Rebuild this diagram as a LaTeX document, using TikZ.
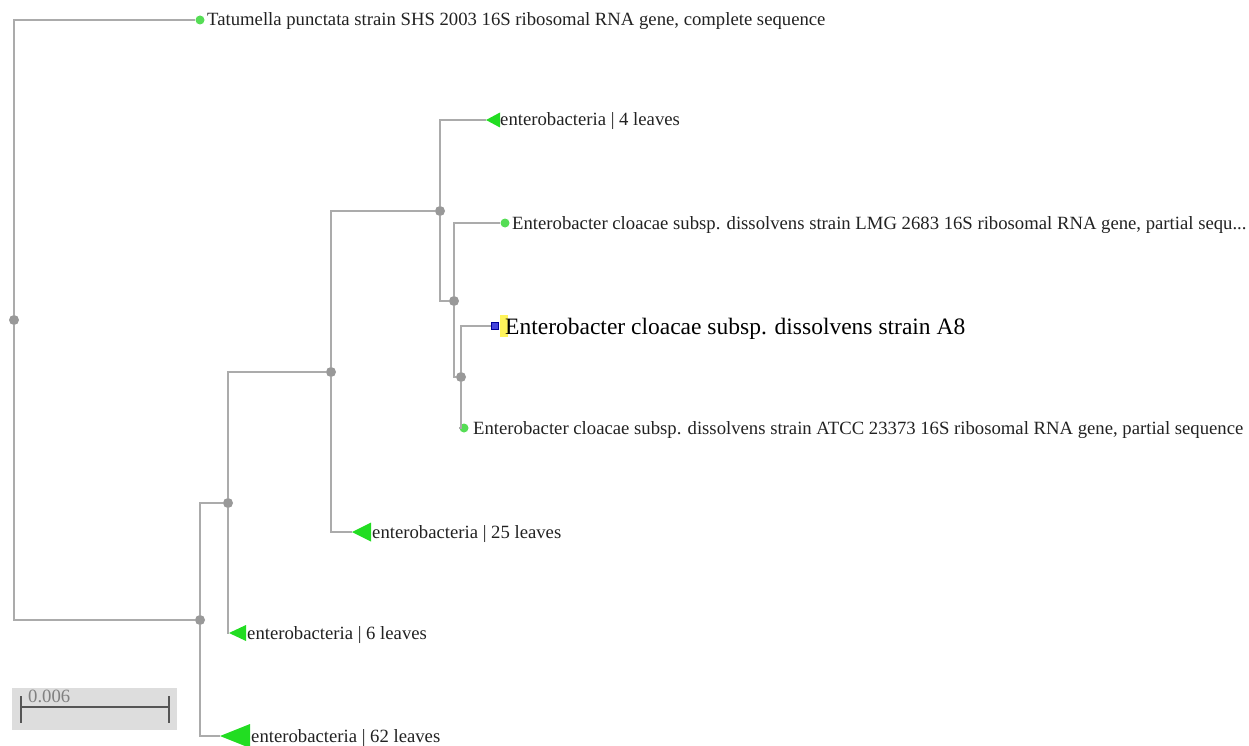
\documentclass[tikz,border=0pt]{standalone}
\usepackage{fontspec}
\setmainfont{Liberation Serif}
\definecolor{linegray}{HTML}{ABABAB}
\definecolor{nodegray}{HTML}{999999}
\definecolor{leafgreen}{HTML}{55DD55}
\definecolor{trigreen}{HTML}{22DD22}
\definecolor{textcol}{HTML}{222222}
\definecolor{sqblue}{HTML}{4444DD}
\definecolor{hlyellow}{HTML}{FFF45A}
\definecolor{scalebg}{HTML}{DDDDDD}
\definecolor{scalebar}{HTML}{555555}
\begin{document}
\begin{tikzpicture}[x=1pt,y=-1pt,
  br/.style={draw=linegray, line width=1.2pt},
  innernode/.style={circle, fill=nodegray, inner sep=0pt, minimum size=10pt},
  leafdot/.style={circle, fill=leafgreen, inner sep=0pt, minimum size=9pt},
  lab/.style={anchor=base west, inner sep=0pt, font=\fontsize{18.7}{20}\selectfont, text=textcol},
  biglab/.style={anchor=base west, inner sep=0pt, font=\fontsize{23.5}{26}\selectfont, text=black},
  tri/.style={fill=trigreen}]
\useasboundingbox (0,0) rectangle (1249,746);
% inner nodes
\node[innernode] (r) at (14,320) {};
\node[innernode] (n1) at (200,620) {};
\node[innernode] (n2) at (228,503) {};
\node[innernode] (n3) at (331,372) {};
\node[innernode] (n4) at (440,211) {};
\node[innernode] (n5) at (454,301) {};
\node[innernode] (n6) at (461,377) {};
% leaves
\node[leafdot] (tat) at (200,20) {};
\node[lab] (tatl) at (207,26) {Tatumella punctata strain SHS 2003 16S ribosomal RNA gene, complete sequence};
\node[leafdot] (lmg) at (505,223) {};
\node[lab] (lmgl) at (512,229) {Enterobacter cloacae subsp. dissolvens strain LMG 2683 16S ribosomal RNA gene, partial sequ...};
\node[leafdot] (atcc) at (464,428) {};
\node[lab] (atccl) at (473,434) {Enterobacter cloacae subsp. dissolvens strain ATCC 23373 16S ribosomal RNA gene, partial sequence};
\fill[hlyellow] (500,315) rectangle (508,337);
\node[draw=blue!60!black, fill=sqblue, inner sep=0pt, minimum size=7.5pt, line width=0.6pt] (sq) at (495,326) {};
\node[biglab] (a8l) at (505,334) {Enterobacter cloacae subsp. dissolvens strain A8};
% collapsed clades
\coordinate (t4) at (486,120);
\fill[tri] (t4) -- ++(14,-7.5) -- ++(0,15) -- cycle;
\node[lab] (t4l) at (500,126) {enterobacteria | 4 leaves};
\coordinate (t25) at (352,532);
\fill[tri] (t25) -- ++(19,-9.5) -- ++(0,19) -- cycle;
\node[lab] (t25l) at (372,538) {enterobacteria | 25 leaves};
\coordinate (t6) at (229,633);
\fill[tri] (t6) -- ++(17,-8) -- ++(0,16) -- cycle;
\node[lab] (t6l) at (247,639) {enterobacteria | 6 leaves};
\coordinate (t62) at (220,736);
\fill[tri] (t62) -- ++(30,-12) -- ++(0,24) -- cycle;
\node[lab] (t62l) at (251,742) {enterobacteria | 62 leaves};
% branches
\draw[br] (r) |- (tat);
\draw[br] (r) |- (n1);
\draw[br] (n1) |- (n2);
\draw[br] (n1) |- (t62);
\draw[br] (n2) |- (n3);
\draw[br] (n2) |- (t6);
\draw[br] (n3) |- (n4);
\draw[br] (n3) |- (t25);
\draw[br] (n4) |- (t4);
\draw[br] (n4) |- (n5);
\draw[br] (n5) |- (lmg);
\draw[br] (n5) |- (n6);
\draw[br] (n6) |- (sq);
\draw[br] (n6) |- (atcc);
% scale bar
\node[fill=scalebg, inner sep=0pt, minimum width=165pt, minimum height=42pt] (sbox) at (94.5,709) {};
\coordinate (sa) at (21,707);
\coordinate (sb) at (169,707);
\draw[scalebar, line width=2.5pt] (sa) -- (sb);
\draw[scalebar, line width=2.5pt] (21,696) -- (21,723);
\draw[scalebar, line width=2.5pt] (169,696) -- (169,723);
\node[anchor=base west, inner sep=0pt, font=\fontsize{18.7}{20}\selectfont, text=gray] (sl) at (28,702) {0.006};
\end{tikzpicture}
\end{document}
